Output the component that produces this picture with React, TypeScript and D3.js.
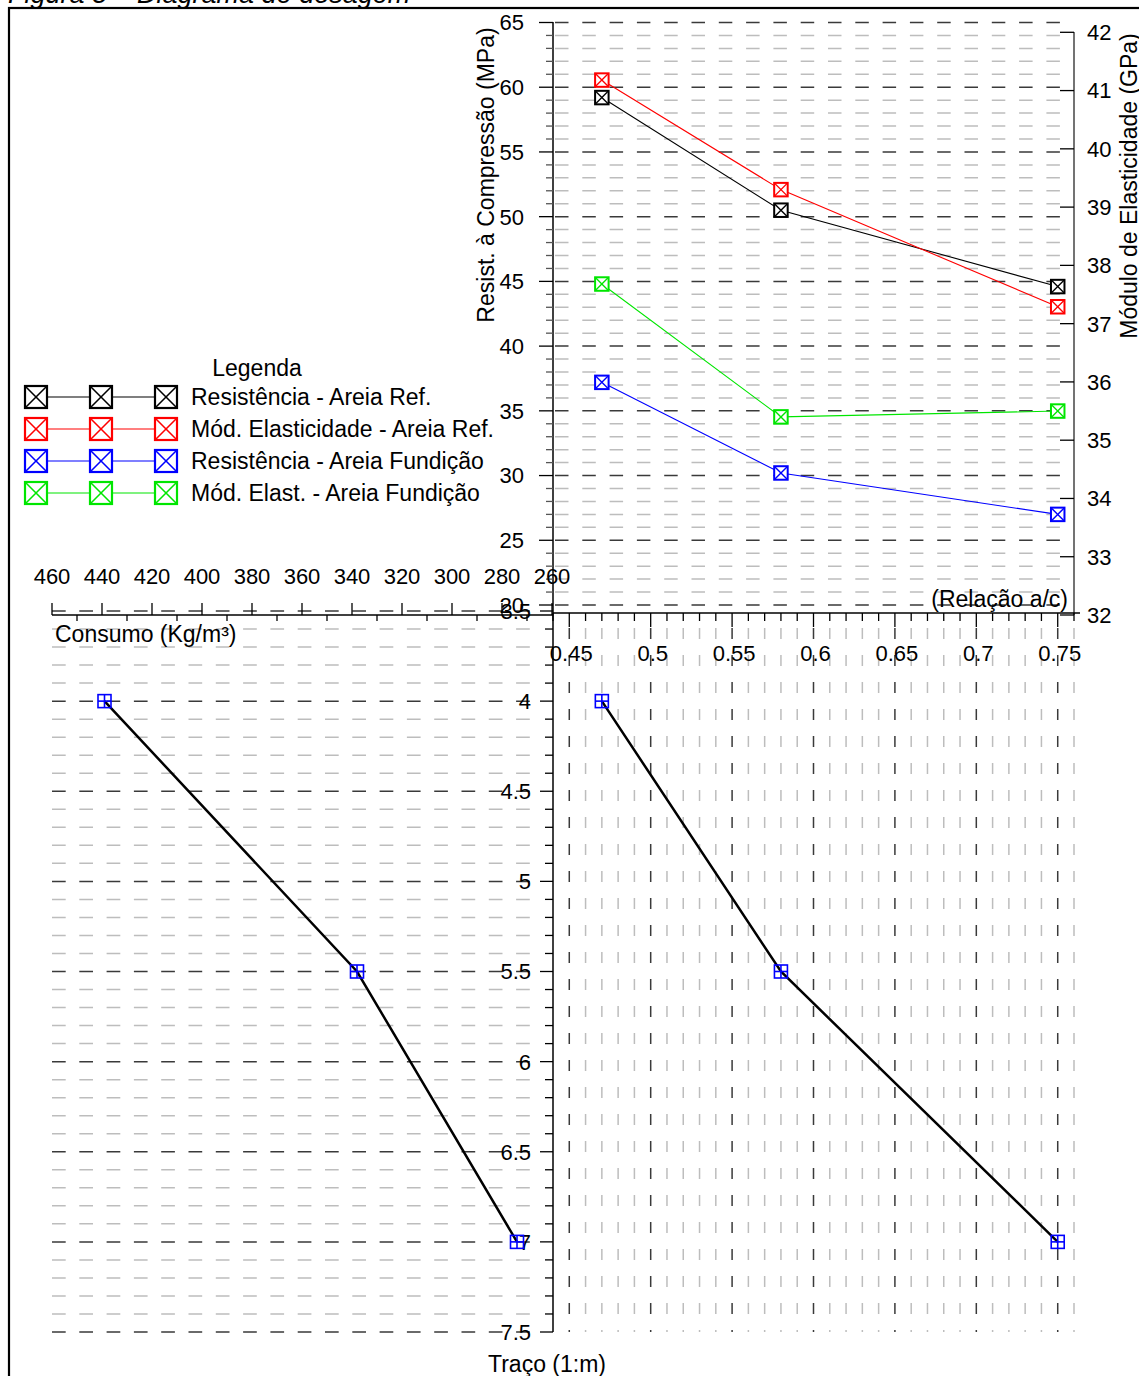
import React from "react";
import * as d3 from "d3";

// water/cement ratio, mix (1:m) and cement content at the three mixes
const relacaoAC = [0.47, 0.58, 0.75];
const traco = [4, 5.5, 7];
const consumo = [439, 338, 274];

// top chart series
const resistRef = [59.2, 50.5, 44.6]; // MPa, left axis
const modElastRef = [41.18, 39.3, 37.29]; // GPa, right axis
const resistFund = [37.2, 30.2, 27.0]; // MPa, left axis
const modElastFund = [37.68, 35.4, 35.5]; // GPa, right axis

const legendItems = [
  { label: "Resistência - Areia Ref.", color: "#000000" },
  { label: "Mód. Elasticidade - Areia Ref.", color: "#ff0000" },
  { label: "Resistência - Areia Fundição", color: "#0000ff" },
  { label: "Mód. Elast. - Areia Fundição", color: "#00e600" },
];

const W = 1139;
const H = 1376;
const FONT = "'Liberation Sans', Arial, sans-serif";
const DARK = "#3a3a3a";
const LIGHT = "#bdbdbd";
const TICK_FS = 22;
const LABEL_FS = 23;

const xAC = d3.scaleLinear().domain([0.44, 0.76]).range([553, 1074]);
const yLeft = d3.scaleLinear().domain([20, 65]).range([605, 22.5]);
const yRight = d3.scaleLinear().domain([32, 42]).range([615, 32.3]);
const xCons = d3.scaleLinear().domain([460, 260]).range([52, 552]);
const yTraco = d3.scaleLinear().domain([3.5, 7.5]).range([611, 1332]);

const fmt = (v: number) => String(+v.toFixed(2));
const near = (a: number, b: number) => Math.abs(a - b) < 1e-6;

function XMarker({ x, y, s, color, sw }: any) {
  const h = s / 2;
  return (
    <g stroke={color} strokeWidth={sw} fill="white">
      <rect x={x - h} y={y - h} width={s} height={s} />
      <line x1={x - h} y1={y - h} x2={x + h} y2={y + h} strokeWidth={sw * 0.7} />
      <line x1={x + h} y1={y - h} x2={x - h} y2={y + h} strokeWidth={sw * 0.7} />
    </g>
  );
}

function PlusMarker({ x, y, s, color }: any) {
  const h = s / 2;
  return (
    <g stroke={color} strokeWidth={1.6} fill="none">
      <rect x={x - h} y={y - h} width={s} height={s} />
      <line x1={x} y1={y - h} x2={x} y2={y + h} />
      <line x1={x - h} y1={y} x2={x + h} y2={y} />
    </g>
  );
}

export default function App() {
  const topLine = (vals: number[], yS: any) =>
    d3.line<number>()
      .x((_, i) => xAC(relacaoAC[i]))
      .y((v) => yS(v))(vals) as string;

  const topSeries = [
    { vals: resistRef, y: yLeft, color: legendItems[0].color },
    { vals: modElastRef, y: yRight, color: legendItems[1].color },
    { vals: resistFund, y: yLeft, color: legendItems[2].color },
    { vals: modElastFund, y: yRight, color: legendItems[3].color },
  ];

  const leftGrid = d3.range(20, 65.001, 1);
  const leftTicks = d3.range(20, 65.001, 5);
  const rightTicks = d3.range(32, 42.001, 1);
  const acMinor = d3.range(0, 33).map((i) => 0.44 + i * 0.01);
  const acMajor = d3.range(0.45, 0.7501, 0.05);
  const tracoMinor = d3.range(0, 41).map((i) => 3.5 + i * 0.1);
  const tracoMajor = d3.range(3.5, 7.5001, 0.5);
  const consMajor = d3.range(460, 259, -20);
  const consMinor = d3.range(450, 260, -20);

  const lineConsumo = d3.line<number>()
    .x((_, i) => xCons(consumo[i]))
    .y((v) => yTraco(v))(traco) as string;
  const lineAC = d3.line<number>()
    .x((_, i) => xAC(relacaoAC[i]))
    .y((v) => yTraco(v))(traco) as string;

  return (
    <div style={{ position: "absolute", left: 0, top: 0, width: W, height: H, background: "white" }}>
      <svg width={W} height={H} fontFamily={FONT} style={{ display: "block" }}>
        <text x={8} y={3} fontSize={27} fontStyle="italic" fill="#000">
          Figura 5 – Diagrama de dosagem
        </text>
        <rect x={9} y={8} width={W + 10} height={H + 10} fill="none" stroke="#000" strokeWidth={2.2} />

        {/* top chart horizontal grid */}
        {leftGrid.map((v) => (
          <line key={"hg" + v} x1={555} x2={1072} y1={yLeft(v)} y2={yLeft(v)}
            stroke={v % 5 === 0 ? DARK : LIGHT} strokeWidth={1.5} strokeDasharray="13.5 13.8" />
        ))}

        {/* bottom-left horizontal grid */}
        {tracoMinor.map((v) => (
          <line key={"bg" + v} x1={52} x2={541} y1={yTraco(v)} y2={yTraco(v)}
            stroke={tracoMajor.some((m) => near(m, v)) ? DARK : LIGHT} strokeWidth={1.5}
            strokeDasharray="13.7 13.6" />
        ))}

        {/* bottom-right vertical grid */}
        {acMinor.slice(1).map((v) => (
          <line key={"vg" + v} x1={xAC(v)} x2={xAC(v)} y1={628} y2={1332}
            stroke={acMajor.some((m) => near(m, v)) ? DARK : LIGHT} strokeWidth={1.5}
            strokeDasharray="11 16" />
        ))}

        {/* shared vertical axis */}
        <line x1={553} x2={553} y1={22} y2={1332} stroke="#000" strokeWidth={1.5} />

        {/* top-left axis ticks & labels */}
        {leftGrid.map((v) => (
          <line key={"lt" + v} x1={v % 5 === 0 ? 539 : 546} x2={553} y1={yLeft(v)} y2={yLeft(v)}
            stroke={v % 5 === 0 ? "#000" : "#555"} strokeWidth={1.3} />
        ))}
        {leftTicks.map((v) => (
          <text key={"ll" + v} x={524} y={yLeft(v)} dy="0.36em" textAnchor="end" fontSize={TICK_FS}>
            {v}
          </text>
        ))}
        <text transform={`translate(494,175) rotate(-90)`} textAnchor="middle" fontSize={LABEL_FS}>
          Resist. à Compressão (MPa)
        </text>

        {/* right axis */}
        <line x1={1074} x2={1074} y1={32} y2={615} stroke="#444" strokeWidth={1.5} />
        {rightTicks.map((v) => (
          <g key={"rt" + v}>
            <line x1={1060} x2={1074} y1={yRight(v)} y2={yRight(v)} stroke="#000" strokeWidth={1.3} />
            <text x={1087} y={yRight(v)} dy="0.36em" fontSize={TICK_FS}>{v}</text>
          </g>
        ))}
        <text transform={`translate(1137,186) rotate(-90)`} textAnchor="middle" fontSize={LABEL_FS}>
          Módulo de Elasticidade (GPa)
        </text>

        {/* a/c axis */}
        <line x1={553} x2={1080} y1={613} y2={613} stroke="#000" strokeWidth={1.5} />
        {acMinor.map((v) => {
          const major = acMajor.some((m) => near(m, v));
          return (
            <line key={"at" + v} x1={xAC(v)} x2={xAC(v)} y1={613} y2={major ? 627 : 621}
              stroke="#000" strokeWidth={1.3} />
          );
        })}
        {acMajor.map((v) => (
          <text key={"al" + v} x={xAC(v) + 2} y={661} textAnchor="middle" fontSize={TICK_FS}>
            {fmt(v)}
          </text>
        ))}
        <text x={1068} y={607} textAnchor="end" fontSize={LABEL_FS}>(Relação a/c)</text>

        {/* consumo axis */}
        <line x1={52} x2={553} y1={615} y2={615} stroke="#000" strokeWidth={1.5} />
        {consMajor.map((v) => (
          <g key={"cm" + v}>
            <line x1={xCons(v)} x2={xCons(v)} y1={603} y2={615} stroke="#000" strokeWidth={1.3} />
            <text x={xCons(v)} y={584} textAnchor="middle" fontSize={TICK_FS}>{v}</text>
          </g>
        ))}
        {consMinor.map((v) => (
          <line key={"cn" + v} x1={xCons(v)} x2={xCons(v)} y1={615} y2={621} stroke="#000" strokeWidth={1.3} />
        ))}
        <text x={55} y={642} fontSize={LABEL_FS}>Consumo (Kg/m³)</text>

        {/* traço axis */}
        {tracoMinor.map((v) => {
          const major = tracoMajor.some((m) => near(m, v));
          return (
            <line key={"tt" + v} x1={major ? 540 : 545} x2={553} y1={yTraco(v)} y2={yTraco(v)}
              stroke="#000" strokeWidth={1.3} />
          );
        })}
        {tracoMajor.map((v) => (
          <text key={"tl" + v} x={531} y={yTraco(v)} dy="0.36em" textAnchor="end" fontSize={TICK_FS}>
            {fmt(v)}
          </text>
        ))}
        <text x={547} y={1372} textAnchor="middle" fontSize={LABEL_FS}>Traço (1:m)</text>

        {/* top chart series */}
        {topSeries.map((s, k) => (
          <g key={"s" + k}>
            <path d={topLine(s.vals, s.y)} fill="none" stroke={s.color} strokeWidth={1.1} />
            {s.vals.map((v, i) => (
              <XMarker key={i} x={xAC(relacaoAC[i])} y={s.y(v)} s={13.5} color={s.color} sw={2} />
            ))}
          </g>
        ))}

        {/* bottom charts */}
        <path d={lineConsumo} fill="none" stroke="#000" strokeWidth={2.5} />
        <path d={lineAC} fill="none" stroke="#000" strokeWidth={2.5} />
        {traco.map((v, i) => (
          <g key={"bm" + i}>
            <PlusMarker x={xCons(consumo[i])} y={yTraco(v)} s={13} color="#0000ff" />
            <PlusMarker x={xAC(relacaoAC[i])} y={yTraco(v)} s={13} color="#0000ff" />
          </g>
        ))}

        {/* legend */}
        <text x={257} y={376} textAnchor="middle" fontSize={LABEL_FS}>Legenda</text>
        {legendItems.map((d, i) => {
          const cy = 397 + i * 32;
          return (
            <g key={"lg" + i}>
              <line x1={36} x2={166} y1={cy} y2={cy} stroke={d.color} strokeWidth={1.2} />
              {[36, 101, 166].map((cx) => (
                <XMarker key={cx} x={cx} y={cy} s={22} color={d.color} sw={2.2} />
              ))}
              <text x={191} y={cy + 8} fontSize={LABEL_FS}>{d.label}</text>
            </g>
          );
        })}
      </svg>
    </div>
  );
}
